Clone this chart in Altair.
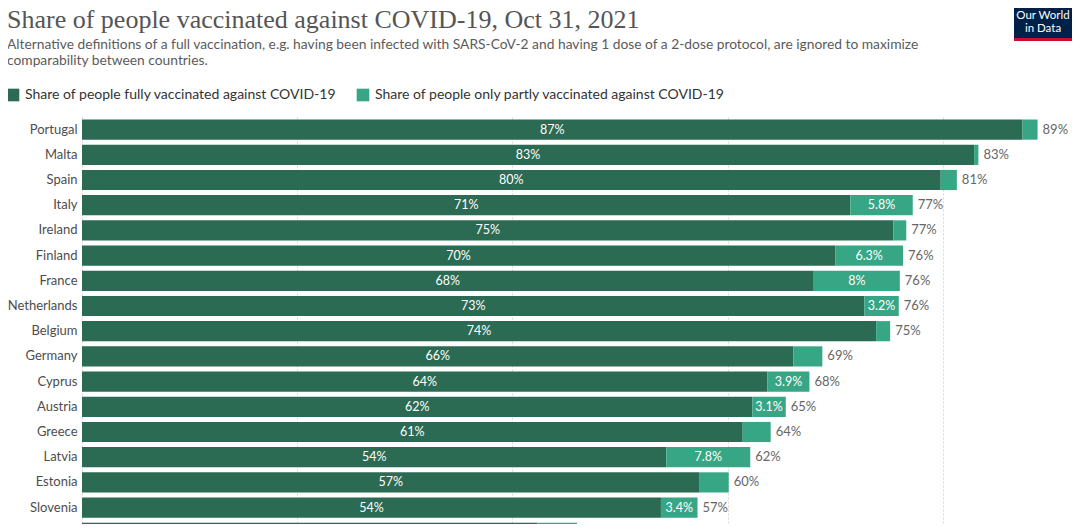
import altair as alt
import pandas as pd

countries = ["Portugal", "Malta", "Spain", "Italy", "Ireland", "Finland", "France",
             "Netherlands", "Belgium", "Germany", "Cyprus", "Austria", "Greece",
             "Latvia", "Estonia", "Slovenia", "Slovakia"]
fully = [87.4, 82.9, 79.8, 71.4, 75.4, 70.0, 68.0, 72.7, 73.8, 66.1, 63.7, 62.3,
         61.4, 54.3, 57.4, 53.8, 42.3]
partly = [1.4, 0.4, 1.5, 5.8, 1.2, 6.3, 8.0, 3.2, 1.3, 2.7, 3.9, 3.1, 2.6, 7.8,
          2.7, 3.4, 3.7]
grid_values = [0, 20, 40, 60, 80]

FULL = "Share of people fully vaccinated against COVID-19"
PART = "Share of people only partly vaccinated against COVID-19"
DARK = "#2b6a53"
LIGHT = "#36a684"

TITLE = "Share of people vaccinated against COVID-19, Oct 31, 2021"
SUB1 = ("Alternative definitions of a full vaccination, e.g. having been infected with "
        "SARS-CoV-2 and having 1 dose of a 2-dose protocol, are ignored to maximize")
SUB2 = "comparability between countries."

rows = []
for c, f, p in zip(countries, fully, partly):
    rows.append(dict(country=c, series=FULL, start=0.0, end=f, value=f,
                     mid=f / 2, total=f + p))
    rows.append(dict(country=c, series=PART, start=f, end=f + p, value=p,
                     mid=f + p / 2, total=f + p))
df = pd.DataFrame(rows)

W, H = 990, 407
STEP = 25.2
x_scale = alt.Scale(domain=[0, 92], nice=False, zero=True)
y_scale = alt.Scale(domain=countries, range=[0, STEP * len(countries)],
                    paddingInner=0.2, paddingOuter=0.1)

base = alt.Chart(df)

y_enc = alt.Y("country:N", scale=y_scale, sort=None,
              axis=alt.Axis(title=None, ticks=False, domain=False, labelFont="Lato",
                            labelFontSize=13, labelColor="#4d4d4d", labelPadding=5,
                            grid=False))

bars = base.mark_bar(clip=True, cornerRadius=0).encode(
    y=y_enc,
    x=alt.X("start:Q", scale=x_scale,
            axis=alt.Axis(title=None, labels=False, ticks=False, domain=False,
                          orient="top", grid=True, values=grid_values,
                          gridDash=[2, 2], gridColor="#d6d6d6", gridWidth=1)),
    x2="end:Q",
    color=alt.Color("series:N",
                    scale=alt.Scale(domain=[FULL, PART], range=[DARK, LIGHT]),
                    legend=alt.Legend(title=None, orient="none", direction="horizontal",
                                      legendX=-76, legendY=-29, symbolType="square",
                                      symbolSize=160, symbolStrokeWidth=0,
                                      labelFont="Lato", labelFontSize=14,
                                      labelColor="#333333", labelOffset=5,
                                      labelLimit=0, columnPadding=19, padding=0)),
)

inner = base.transform_filter(
    (alt.datum.series == FULL) | (alt.datum.value >= 3)
).transform_calculate(
    label="format(datum.value, '.2~r') + '%'"
).mark_text(color="white", font="Lato", fontSize=12.5, baseline="middle",
            align="center", clip=True).encode(
    y=alt.Y("country:N", scale=y_scale, sort=None),
    x=alt.X("mid:Q", scale=x_scale),
    text="label:N",
)

totals = base.transform_filter(
    alt.datum.series == PART
).transform_calculate(
    label="format(datum.total, '.2~r') + '%'"
).mark_text(color="#666666", font="Lato", fontSize=13, baseline="middle",
            align="left", dx=5, clip=True).encode(
    y=alt.Y("country:N", scale=y_scale, sort=None),
    x=alt.X("total:Q", scale=x_scale),
    text="label:N",
)

one = alt.Chart(pd.DataFrame({"a": [0]}))

title = one.mark_text(font="Liberation Serif", fontSize=26, color="#555555",
                      align="left", baseline="alphabetic").encode(
    x=alt.value(-75), y=alt.value(-89.5), text=alt.value(TITLE))
sub1 = one.mark_text(font="Lato", fontSize=13.8, color="#5b5b5b",
                     align="left", baseline="alphabetic").encode(
    x=alt.value(-75), y=alt.value(-68), text=alt.value(SUB1))
sub2 = one.mark_text(font="Lato", fontSize=13.8, color="#5b5b5b",
                     align="left", baseline="alphabetic").encode(
    x=alt.value(-75), y=alt.value(-52.5), text=alt.value(SUB2))

logo_box = one.mark_rect(color="#002147").encode(
    x=alt.value(932), x2=alt.value(990), y=alt.value(-109), y2=alt.value(-76))
logo_red = one.mark_rect(color="#c8102e").encode(
    x=alt.value(932), x2=alt.value(990), y=alt.value(-79), y2=alt.value(-76))
logo1 = one.mark_text(font="Lato", fontSize=11.5, color="white", align="center",
                      baseline="middle").encode(
    x=alt.value(961), y=alt.value(-101), text=alt.value("Our World"))
logo2 = one.mark_text(font="Lato", fontSize=11.5, color="white", align="center",
                      baseline="middle").encode(
    x=alt.value(961), y=alt.value(-88), text=alt.value("in Data"))

chart = alt.layer(
    bars, inner, totals, title, sub1, sub2, logo_box, logo_red, logo1, logo2
).properties(
    width=W, height=H,
    autosize=alt.AutoSizeParams(type="none"),
    padding={"left": 74, "top": 109, "right": 0, "bottom": 0},
    background="white",
).configure_view(stroke=None)

chart.save("out.html", embed_options={"renderer": "svg", "actions": False})
